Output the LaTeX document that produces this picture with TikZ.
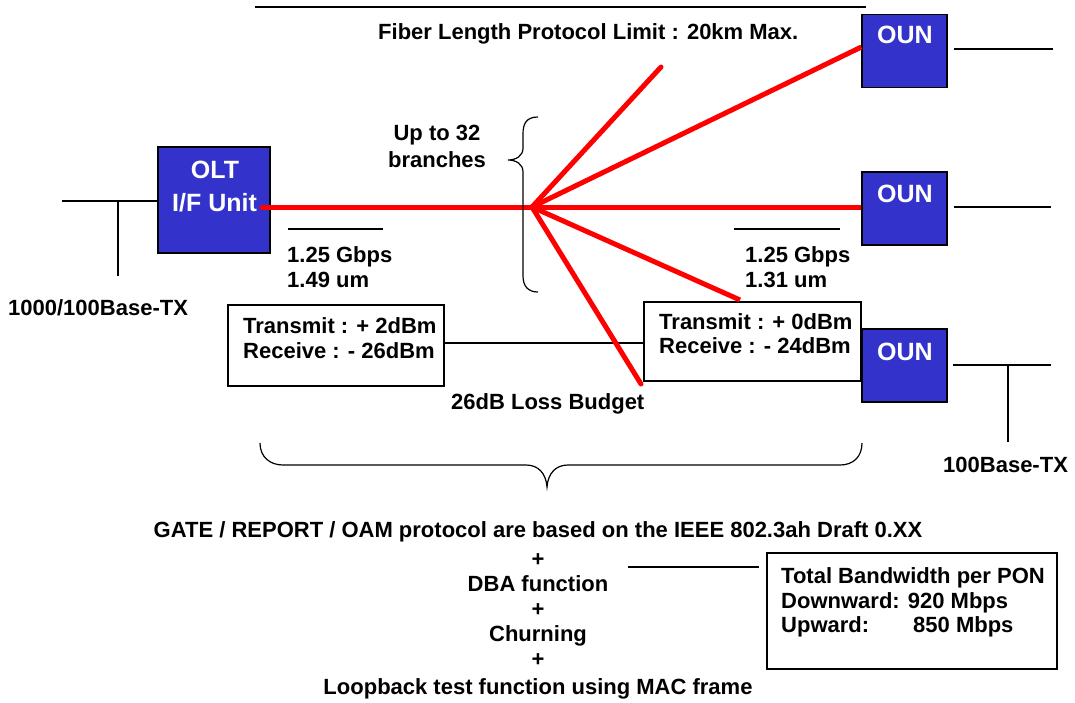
\documentclass[tikz,border=0pt]{standalone}
\usepackage{fontspec}
\setmainfont{Liberation Sans}
\definecolor{ounblue}{RGB}{51,51,204}
\definecolor{fiberred}{RGB}{255,0,0}
\begin{document}
\begin{tikzpicture}[x=1pt,y=-1pt,
  txt/.style={font=\fontsize{22}{26}\selectfont\bfseries, inner sep=0pt, anchor=base west},
  txtc/.style={txt, anchor=base},
  wtxt/.style={font=\fontsize{25}{29}\selectfont\bfseries, text=white, inner sep=0pt, anchor=base west},
  unit/.style={draw=black, line width=1.3pt, fill=ounblue, minimum width=85pt, minimum height=73pt, inner sep=0pt},
  infobox/.style={draw=black, line width=1.3pt, fill=white, inner sep=0pt},
  wire/.style={draw=black, line width=1.3pt},
  fiber/.style={draw=fiberred, line width=5pt, line cap=round}]
\useasboundingbox (0,0) rectangle (1075,702);

% boxes
\node[unit, minimum width=112pt, minimum height=106pt] (olt) at (214,200) {};
\node[unit] (oun1) at (904.5,51) {};
\node[unit] (oun2) at (904.5,208.5) {};
\node[unit] (oun3) at (904.5,365.5) {};
\node[infobox, minimum width=216pt, minimum height=81pt] (txl) at (336,345.5) {};
\node[infobox, minimum width=217pt, minimum height=79pt] (txr) at (752.5,341.5) {};
\node[infobox, minimum width=290pt, minimum height=116pt] (bw) at (912,611) {};

% wires
\coordinate (topL) at (255,7); \coordinate (topR) at (866,7);
\draw[wire] (topL) -- (topR);
\coordinate (lanL) at (62,201); \coordinate (lanT) at (118,201); \coordinate (lanB) at (118,276);
\draw[wire] (lanL) -- (olt.west |- lanL);
\draw[wire] (lanT) -- (lanB);
\coordinate (dl1) at (288,229); \coordinate (dl2) at (383,229);
\draw[wire] (dl1) -- (dl2);
\coordinate (dr1) at (734,229); \coordinate (dr2) at (840,229);
\draw[wire] (dr1) -- (dr2);
\coordinate (o1l) at (954,49); \coordinate (o1r) at (1053,49); \draw[wire] (o1l) -- (o1r);
\coordinate (o2l) at (954,207); \coordinate (o2r) at (1051,207); \draw[wire] (o2l) -- (o2r);
\coordinate (o3l) at (953,365); \coordinate (o3r) at (1051,365);
\coordinate (o3t) at (1008,365); \coordinate (o3b) at (1008,442);
\draw[wire] (o3l) -- (o3r);
\draw[wire] (o3t) -- (o3b);
\draw[wire] (txl.east |- 0,343) -- (txr.west |- 0,343);
\coordinate (bwl) at (628,567); \coordinate (bwr) at (759,567);
\draw[wire] (bwl) -- (bwr);

% fibers
\coordinate (oltout) at (262,207);
\coordinate (split) at (532,207);
\coordinate (f1) at (661,67);
\coordinate (f4) at (740,300);
\coordinate (f5) at (641,384);
\draw[fiber] (oltout) -- (split);
\draw[fiber] (split) -- (f1);
\draw[fiber, line cap=butt] (split) -- (oun1.west |- 0,47);
\draw[fiber, line cap=butt] (split) -- (oun2.west |- 0,207);
\draw[fiber, line cap=butt] (split) -- (f4);
\draw[fiber] (split) -- (f5);

% braces
\draw[black, line width=1.2pt] (538,117) .. controls (526,117) and (523,124) .. (523,134)
  -- (523,148) .. controls (523,156) and (516,160) .. (508,160)
  .. controls (516,160) and (523,164) .. (523,172)
  -- (523,276) .. controls (523,286) and (528,292) .. (538,292);
\draw[black, line width=1.2pt] (260,443) .. controls (260,457) and (270,465) .. (283,465)
  -- (526,465) .. controls (538,465) and (546,473) .. (547,487)
  .. controls (548,473) and (556,465) .. (568,465)
  -- (840,465) .. controls (853,465) and (862,457) .. (862,443);

% texts
\node[txt] (fibertxt) at (378,39) {Fiber Length Protocol Limit : 20km Max.};
\node[txtc] (up) at (437,140) {Up to 32};
\node[txtc] (br) at (437,167) {branches};
\node[wtxt, anchor=base] (oltt) at (215,178) {OLT};
\node[wtxt] (ift) at (172,211) {I/F Unit};
\node[wtxt] at (877,43) {OUN};
\node[wtxt] at (877,202) {OUN};
\node[wtxt] at (877,360) {OUN};
\node[txt] at (287,262) {1.25 Gbps};
\node[txt] at (287,287) {1.49 um};
\node[txt] at (745,262) {1.25 Gbps};
\node[txt] at (745,287) {1.31 um};
\node[txt] at (8,315) {1000/100Base-TX};
\node[txt] at (243,333) {Transmit : + 2dBm};
\node[txt] at (243,358) {Receive : - 26dBm};
\node[txt] at (659,329) {Transmit : + 0dBm};
\node[txt] at (659,353) {Receive : - 24dBm};
\node[txt] at (451,409) {26dB Loss Budget};
\node[txt] at (943,472) {100Base-TX};
\node[txtc] at (538,537) {GATE / REPORT / OAM protocol are based on the IEEE 802.3ah Draft 0.XX};
\node[txtc] at (538,566) {+};
\node[txtc] at (538,591) {DBA function};
\node[txtc] at (538,616) {+};
\node[txtc] at (538,641) {Churning};
\node[txtc] at (538,666) {+};
\node[txtc] at (538,694) {Loopback test function using MAC frame};
\node[txt] at (781,583) {Total Bandwidth per PON};
\node[txt] at (781,608) {Downward: 920 Mbps};
\node[txt] at (781,632) {Upward:};
\node[txt] at (913,632) {850 Mbps};
\end{tikzpicture}
\end{document}
